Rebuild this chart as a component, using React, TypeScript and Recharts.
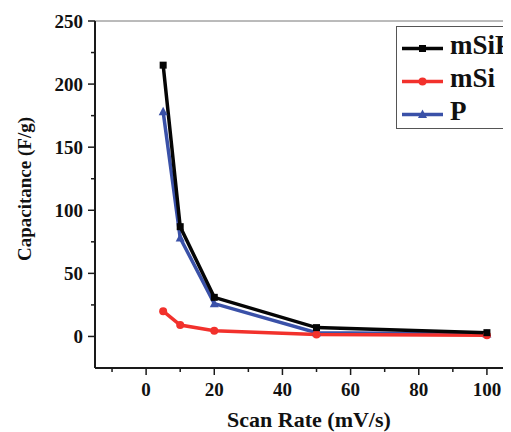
import React from 'react';
import { LineChart, Line, XAxis, YAxis, Legend, ReferenceLine } from 'recharts';

// Values
const scanRates = [5, 10, 20, 50, 100];
const mSiPValues = [215, 87, 31, 7, 3];
const mSiValues = [20, 9, 4.5, 1.5, 1];
const pValues = [178, 78, 26, 3, 2];

const seriesOrder = ['mSiP', 'mSi', 'P'];

const xMajorTicks = [0, 20, 40, 60, 80, 100];
const xMinorTicks = [-10, 10, 30, 50, 70, 90, 110];
const yMajorTicks = [0, 50, 100, 150, 200, 250];
const yMinorTicks = [25, 75, 125, 175, 225];

const data = scanRates.map((rate, i) => ({
  rate,
  mSiP: mSiPValues[i],
  mSi: mSiValues[i],
  P: pValues[i],
}));

const FONT = '"Liberation Serif", "Times New Roman", serif';
const AXIS_COLOR = '#1a1a1a';

const BLACK = '#050505';
const RED = '#f2312c';
const BLUE = '#3a51a8';

const xTicks = [...xMajorTicks, ...xMinorTicks].sort((a, b) => a - b);
const yTicks = [...yMajorTicks, ...yMinorTicks].sort((a, b) => a - b);

const XTick = (props: any) => {
  const { x, y, payload } = props;
  const major = xMajorTicks.includes(payload.value);
  return (
    <g>
      <line x1={x} y1={y} x2={x} y2={y + (major ? 7 : 4)} stroke={AXIS_COLOR} strokeWidth={1.5} />
      {major && (
        <text
          x={x}
          y={y + 21}
          textAnchor="middle"
          dominantBaseline="central"
          fontFamily={FONT}
          fontWeight={700}
          fontSize={19}
          fill="#111"
        >
          {payload.value}
        </text>
      )}
    </g>
  );
};

const YTick = (props: any) => {
  const { x, y, payload } = props;
  const major = yMajorTicks.includes(payload.value);
  return (
    <g>
      <line x1={x} y1={y} x2={x - (major ? 7 : 4)} y2={y} stroke={AXIS_COLOR} strokeWidth={1.5} />
      {major && (
        <text
          x={x - 12}
          y={y}
          textAnchor="end"
          dominantBaseline="central"
          fontFamily={FONT}
          fontWeight={700}
          fontSize={19}
          fill="#111"
        >
          {payload.value}
        </text>
      )}
    </g>
  );
};

const SquareDot = (props: any) => {
  const { cx, cy } = props;
  if (cx == null || cy == null) return null;
  return <rect x={cx - 3.5} y={cy - 3.5} width={7} height={7} fill={BLACK} />;
};

const CircleDot = (props: any) => {
  const { cx, cy } = props;
  if (cx == null || cy == null) return null;
  return <circle cx={cx} cy={cy} r={4} fill={RED} />;
};

const TriangleDot = (props: any) => {
  const { cx, cy } = props;
  if (cx == null || cy == null) return null;
  return <polygon points={`${cx},${cy - 5} ${cx - 4.5},${cy + 3.5} ${cx + 4.5},${cy + 3.5}`} fill={BLUE} />;
};

const legendMarkers: Record<string, (c: string) => React.ReactNode> = {
  mSiP: (c) => <rect x={17} y={6} width={7} height={7} fill={c} />,
  mSi: (c) => <circle cx={20.5} cy={9.5} r={4} fill={c} />,
  P: (c) => <polygon points="20.5,4.5 16,13 25,13" fill={c} />,
};

const renderLegend = (props: any) => {
  const payload = [...(props.payload || [])].sort(
    (a: any, b: any) => seriesOrder.indexOf(a.value) - seriesOrder.indexOf(b.value)
  );
  return (
    <div
      style={{
        width: 150,
        border: '1px solid #555',
        padding: '2px 0 0 5px',
        background: '#fff',
        boxSizing: 'border-box',
      }}
    >
      {payload.map((entry: any) => (
        <div
          key={entry.value}
          style={{ display: 'flex', alignItems: 'center', height: 33 }}
        >
          <svg width={41} height={19} style={{ marginTop: 6 }}>
            <line x1={0} y1={9.5} x2={41} y2={9.5} stroke={entry.color} strokeWidth={3.5} />
            {legendMarkers[entry.value](entry.color)}
          </svg>
          <span
            style={{
              marginLeft: 7,
              fontFamily: FONT,
              fontWeight: 700,
              fontSize: 27,
              lineHeight: '33px',
              color: '#111',
            }}
          >
            {entry.value}
          </span>
        </div>
      ))}
    </div>
  );
};

const App: React.FC = () => {
  return (
    <div style={{ width: 503, height: 424, overflow: 'hidden', background: '#fff' }}>
      <LineChart
        width={530}
        height={424}
        data={data}
        margin={{ top: 13, right: 17, left: 0, bottom: 0 }}
      >
        <ReferenceLine y={250} stroke="#777" strokeWidth={1} />
        <XAxis
          dataKey="rate"
          type="number"
          domain={[-15, 110]}
          ticks={xTicks}
          allowDataOverflow
          height={64}
          tickSize={0}
          tickMargin={0}
          tickLine={false}
          tick={<XTick />}
          interval={0}
          axisLine={{ stroke: AXIS_COLOR, strokeWidth: 2 }}
          label={{
            content: () => (
              <text
                x={301}
                y={419}
                textAnchor="middle"
                fontFamily={FONT}
                fontWeight={700}
                fontSize={22}
                fill="#111"
              >
                Scan Rate (mV/s)
              </text>
            ),
          }}
        />
        <YAxis
          type="number"
          domain={[-25, 250]}
          ticks={yTicks}
          allowDataOverflow
          width={87}
          tickSize={0}
          tickMargin={0}
          tickLine={false}
          tick={<YTick />}
          interval={0}
          axisLine={{ stroke: AXIS_COLOR, strokeWidth: 2 }}
          label={{
            content: () => (
              <text
                x={16}
                y={181}
                transform="rotate(-90 16 181)"
                textAnchor="middle"
                dominantBaseline="central"
                fontFamily={FONT}
                fontWeight={700}
                fontSize={19}
                fill="#111"
              >
                Capacitance (F/g)
              </text>
            ),
          }}
        />
        <Legend
          layout="vertical"
          align="center"
          verticalAlign="middle"
          content={renderLegend}
          wrapperStyle={{ left: 388, top: 18, width: 150 }}
        />
        <Line
          type="linear"
          dataKey="P"
          name="P"
          stroke={BLUE}
          strokeWidth={3.5}
          dot={<TriangleDot />}
          activeDot={false}
          isAnimationActive={false}
        />
        <Line
          type="linear"
          dataKey="mSi"
          name="mSi"
          stroke={RED}
          strokeWidth={3.5}
          dot={<CircleDot />}
          activeDot={false}
          isAnimationActive={false}
        />
        <Line
          type="linear"
          dataKey="mSiP"
          name="mSiP"
          stroke={BLACK}
          strokeWidth={3.5}
          dot={<SquareDot />}
          activeDot={false}
          isAnimationActive={false}
        />
      </LineChart>
    </div>
  );
};

export default App;
